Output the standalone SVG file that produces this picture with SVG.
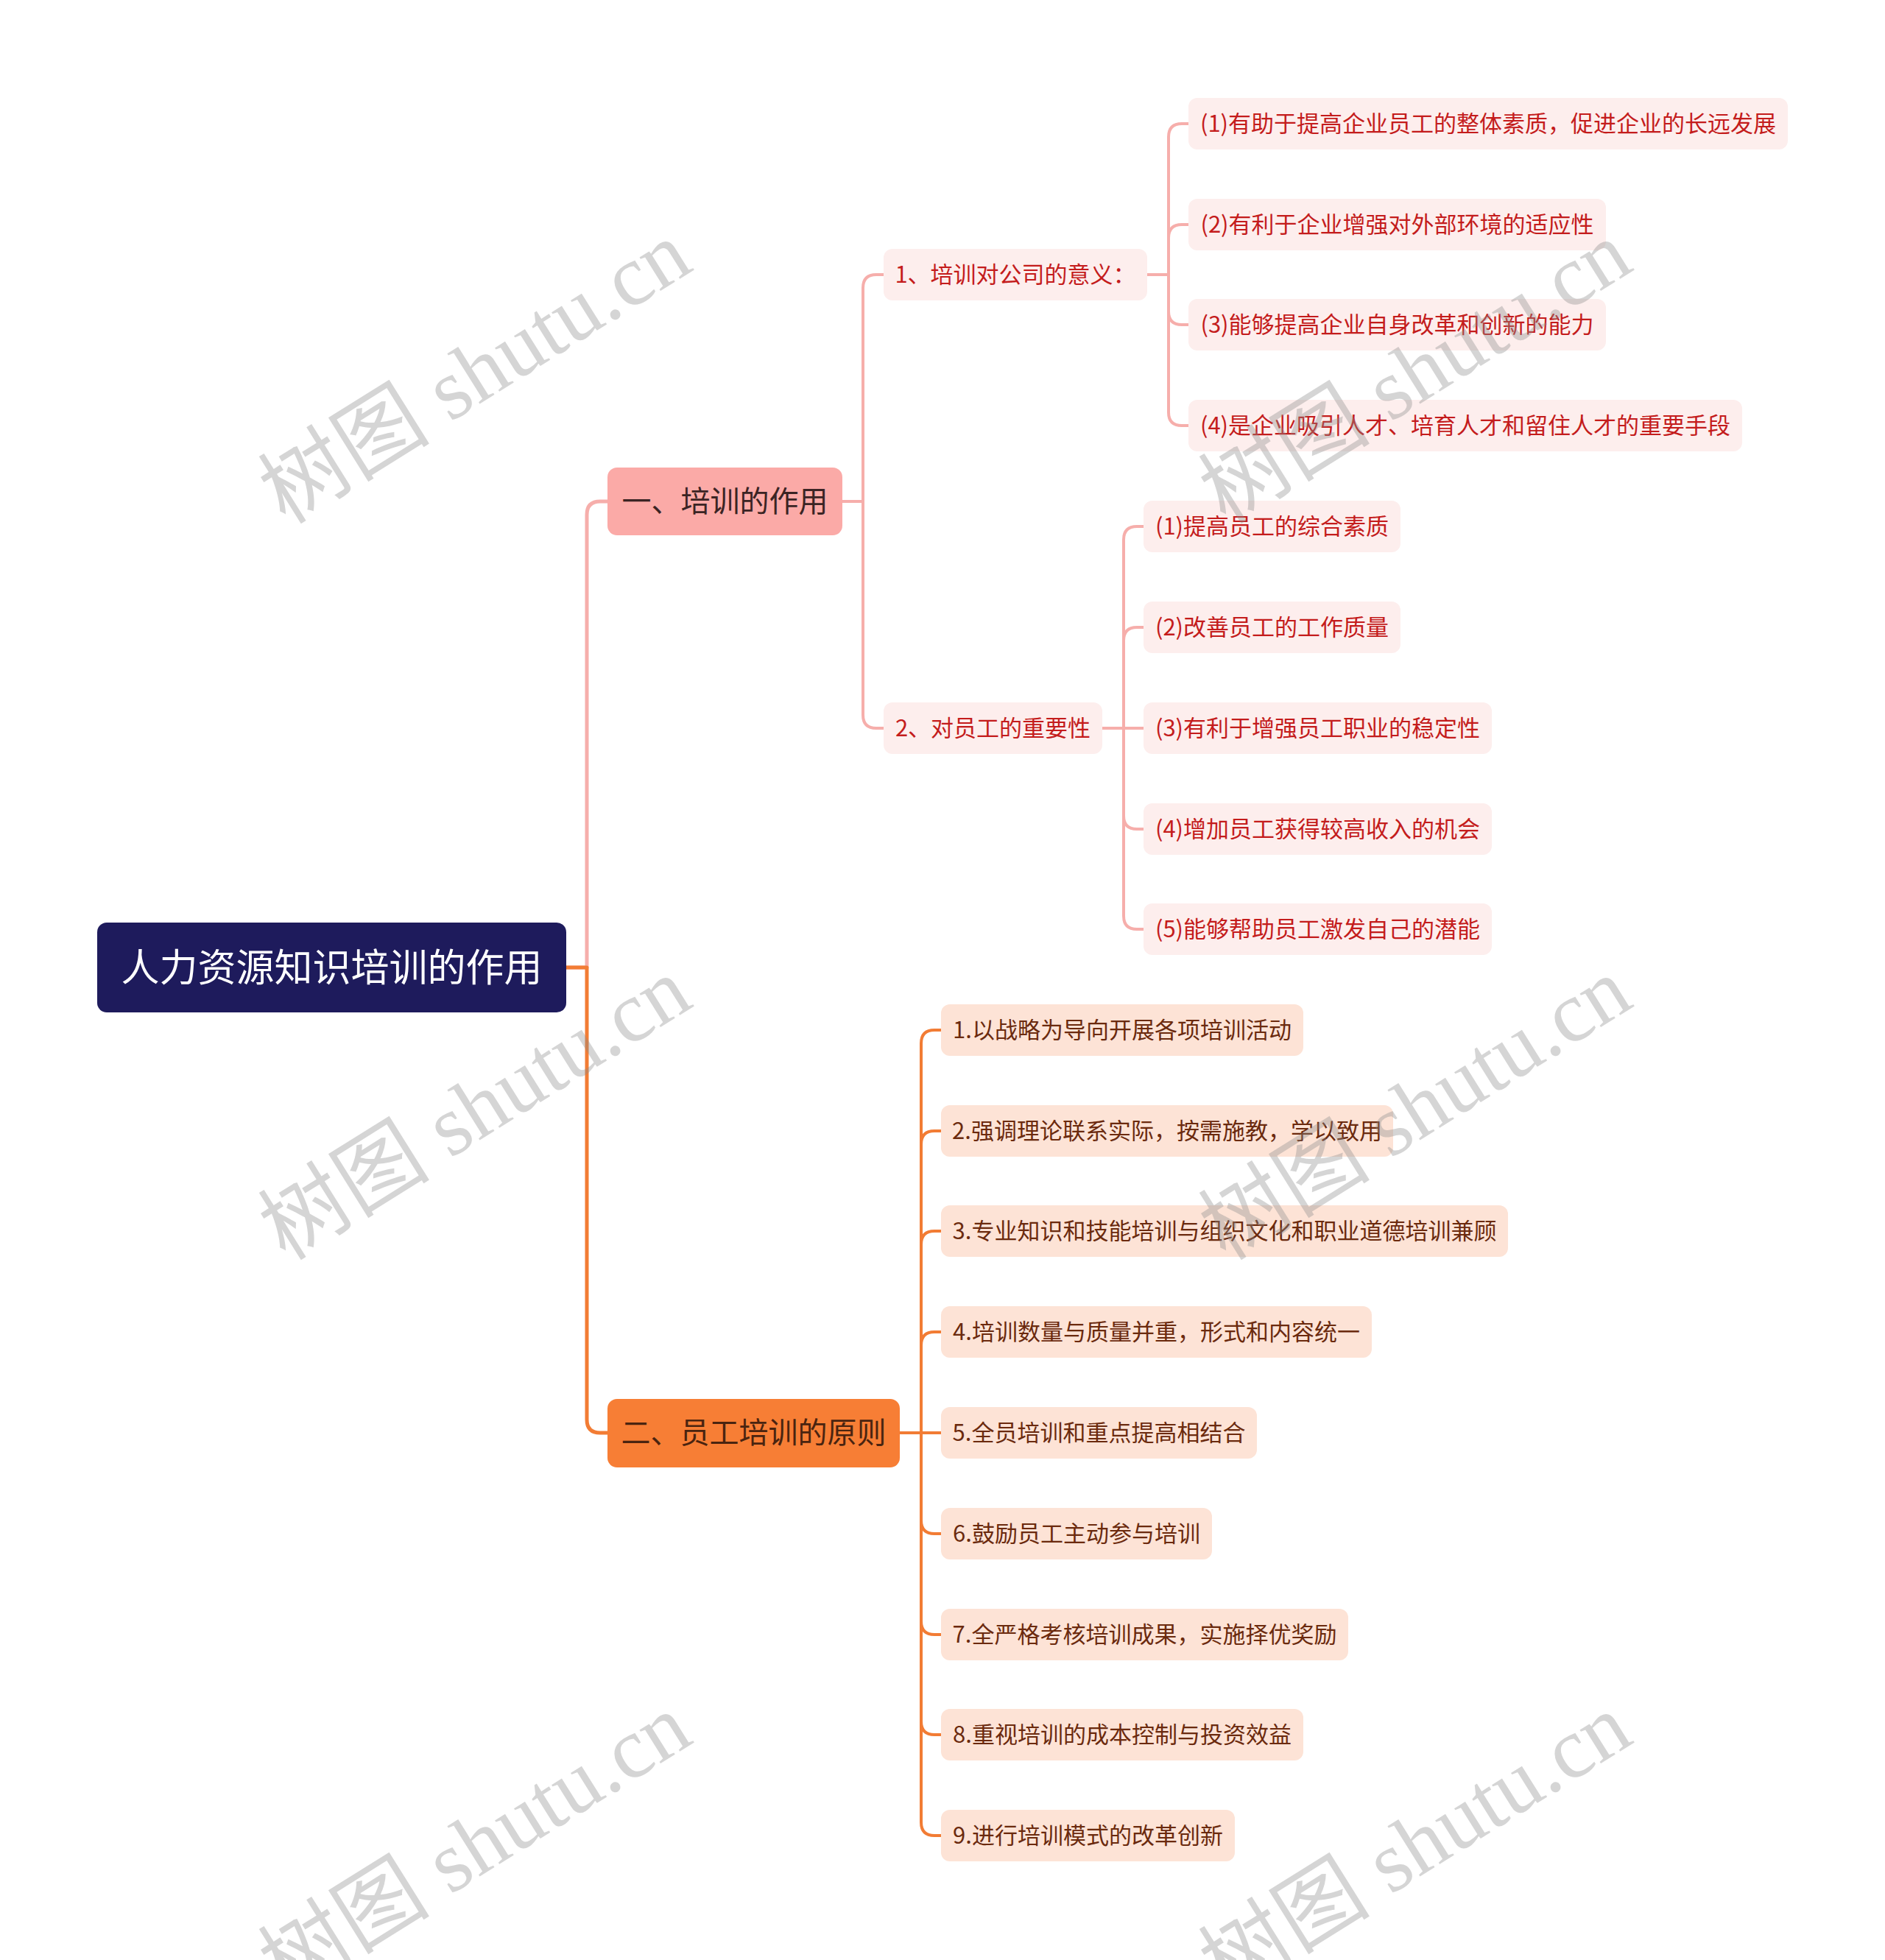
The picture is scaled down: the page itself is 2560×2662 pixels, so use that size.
<svg xmlns="http://www.w3.org/2000/svg" width="2560" height="2662" viewBox="0 0 2560 2662">
<style>
text{font-family:"Noto Sans CJK SC","Noto Sans",sans-serif;}
.c{fill:none;stroke-linecap:round;stroke-linejoin:round;}
.pk{stroke:#f6aeab;}
.or{stroke:#f27c34;}
.w5{stroke-width:5;}
.w4{stroke-width:4;}
.root rect{fill:#1e1b5c;}
.root text{fill:#ffffff;font-size:52px;text-anchor:middle;}
.b1 rect{fill:#fbaaa7;}
.b1 text{fill:#3b2424;font-size:40px;text-anchor:middle;}
.b2 rect{fill:#f77e35;}
.b2 text{fill:#4a2410;font-size:40px;text-anchor:middle;}
.lp rect{fill:#fdeeed;}
.lp text{fill:#c41c1c;font-size:31px;text-anchor:middle;}
.lo rect{fill:#fde3d6;}
.lo text{fill:#6b2a0e;font-size:31px;text-anchor:middle;}
.wm text{font-family:"Liberation Serif","Noto Sans CJK SC",serif;font-size:117px;fill:#8c8c8c;opacity:0.36;text-anchor:middle;}
</style>
<rect width="2560" height="2662" fill="#ffffff"/>
<g id="connectors">
  <path class="c pk w5" d="M769,1314 H797 V699 Q797,681 815,681 H825"/>
  <path class="c or w5" d="M769,1314 H797 V1928 Q797,1946 815,1946 H825"/>
  <path class="c pk w4" d="M1144,681 H1172 V391 Q1172,373 1190,373 H1200"/>
  <path class="c pk w4" d="M1144,681 H1172 V971 Q1172,989 1190,989 H1200"/>
  <path class="c pk w4" d="M1558,373 H1587 V186 Q1587,168 1605,168 H1614"/>
  <path class="c pk w4" d="M1558,373 H1587 V323 Q1587,305 1605,305 H1614"/>
  <path class="c pk w4" d="M1558,373 H1587 V423 Q1587,441 1605,441 H1614"/>
  <path class="c pk w4" d="M1558,373 H1587 V560 Q1587,578 1605,578 H1614"/>
  <path class="c pk w4" d="M1497,989 H1526 V733 Q1526,715 1544,715 H1553"/>
  <path class="c pk w4" d="M1497,989 H1526 V870 Q1526,852 1544,852 H1553"/>
  <path class="c pk w4" d="M1497,989 H1553"/>
  <path class="c pk w4" d="M1497,989 H1526 V1108 Q1526,1126 1544,1126 H1553"/>
  <path class="c pk w4" d="M1497,989 H1526 V1244 Q1526,1262 1544,1262 H1553"/>
  <path class="c or w4" d="M1222,1946 H1251 V1417 Q1251,1399 1269,1399 H1278"/>
  <path class="c or w4" d="M1222,1946 H1251 V1554 Q1251,1536 1269,1536 H1278"/>
  <path class="c or w4" d="M1222,1946 H1251 V1690 Q1251,1672 1269,1672 H1278"/>
  <path class="c or w4" d="M1222,1946 H1251 V1827 Q1251,1809 1269,1809 H1278"/>
  <path class="c or w4" d="M1222,1946 H1278"/>
  <path class="c or w4" d="M1222,1946 H1251 V2065 Q1251,2083 1269,2083 H1278"/>
  <path class="c or w4" d="M1222,1946 H1251 V2202 Q1251,2220 1269,2220 H1278"/>
  <path class="c or w4" d="M1222,1946 H1251 V2338 Q1251,2356 1269,2356 H1278"/>
  <path class="c or w4" d="M1222,1946 H1251 V2475 Q1251,2493 1269,2493 H1278"/>
</g>
<g id="root" class="root"><rect x="132" y="1253" width="637" height="122" rx="13"/><text x="450.5" y="1333">人力资源知识培训的作用</text></g>
<g id="b1" class="b1"><rect x="825" y="635" width="319" height="92" rx="13"/><text x="984.5" y="695">一、培训的作用</text></g>
<g id="b2" class="b2"><rect x="825" y="1900" width="397" height="93" rx="13"/><text x="1023.5" y="1960">二、员工培训的原则</text></g>
<g id="s1" class="lp"><rect x="1200" y="338" width="358" height="70" rx="12"/><text x="1379" y="384">1、培训对公司的意义：</text></g>
<g id="s2" class="lp"><rect x="1200" y="954" width="297" height="70" rx="12"/><text x="1348.5" y="1000">2、对员工的重要性</text></g>
<g id="s1-1" class="lp"><rect x="1614" y="133" width="814" height="70" rx="12"/><text x="2021" y="179">(1)有助于提高企业员工的整体素质，促进企业的长远发展</text></g>
<g id="s1-2" class="lp"><rect x="1614" y="270" width="567" height="70" rx="12"/><text x="1897.5" y="316">(2)有利于企业增强对外部环境的适应性</text></g>
<g id="s1-3" class="lp"><rect x="1614" y="406" width="567" height="70" rx="12"/><text x="1897.5" y="452">(3)能够提高企业自身改革和创新的能力</text></g>
<g id="s1-4" class="lp"><rect x="1614" y="543" width="752" height="70" rx="12"/><text x="1990" y="589">(4)是企业吸引人才、培育人才和留住人才的重要手段</text></g>
<g id="s2-1" class="lp"><rect x="1553" y="680" width="349" height="70" rx="12"/><text x="1727.5" y="726">(1)提高员工的综合素质</text></g>
<g id="s2-2" class="lp"><rect x="1553" y="817" width="349" height="70" rx="12"/><text x="1727.5" y="863">(2)改善员工的工作质量</text></g>
<g id="s2-3" class="lp"><rect x="1553" y="954" width="473" height="70" rx="12"/><text x="1789.5" y="1000">(3)有利于增强员工职业的稳定性</text></g>
<g id="s2-4" class="lp"><rect x="1553" y="1091" width="473" height="70" rx="12"/><text x="1789.5" y="1137">(4)增加员工获得较高收入的机会</text></g>
<g id="s2-5" class="lp"><rect x="1553" y="1227" width="473" height="70" rx="12"/><text x="1789.5" y="1273">(5)能够帮助员工激发自己的潜能</text></g>
<g id="p1" class="lo"><rect x="1278" y="1364" width="492" height="70" rx="12"/><text x="1524" y="1410">1.以战略为导向开展各项培训活动</text></g>
<g id="p2" class="lo"><rect x="1278" y="1501" width="614" height="70" rx="12"/><text x="1585" y="1547">2.强调理论联系实际，按需施教，学以致用</text></g>
<g id="p3" class="lo"><rect x="1278" y="1637" width="770" height="70" rx="12"/><text x="1663" y="1683">3.专业知识和技能培训与组织文化和职业道德培训兼顾</text></g>
<g id="p4" class="lo"><rect x="1278" y="1774" width="585" height="70" rx="12"/><text x="1570.5" y="1820">4.培训数量与质量并重，形式和内容统一</text></g>
<g id="p5" class="lo"><rect x="1278" y="1911" width="429" height="70" rx="12"/><text x="1492.5" y="1957">5.全员培训和重点提高相结合</text></g>
<g id="p6" class="lo"><rect x="1278" y="2048" width="368" height="70" rx="12"/><text x="1462" y="2094">6.鼓励员工主动参与培训</text></g>
<g id="p7" class="lo"><rect x="1278" y="2185" width="553" height="70" rx="12"/><text x="1554.5" y="2231">7.全严格考核培训成果，实施择优奖励</text></g>
<g id="p8" class="lo"><rect x="1278" y="2321" width="492" height="70" rx="12"/><text x="1524" y="2367">8.重视培训的成本控制与投资效益</text></g>
<g id="p9" class="lo"><rect x="1278" y="2458" width="399" height="70" rx="12"/><text x="1477.5" y="2504">9.进行培训模式的改革创新</text></g>
<g id="watermarks" class="wm">
  <g transform="translate(647,509) rotate(-32)"><text x="0" y="36">树图 shutu.cn</text></g>
  <g transform="translate(1924,509) rotate(-32)"><text x="0" y="36">树图 shutu.cn</text></g>
  <g transform="translate(647,1509) rotate(-32)"><text x="0" y="36">树图 shutu.cn</text></g>
  <g transform="translate(1924,1509) rotate(-32)"><text x="0" y="36">树图 shutu.cn</text></g>
  <g transform="translate(647,2509) rotate(-32)"><text x="0" y="36">树图 shutu.cn</text></g>
  <g transform="translate(1924,2509) rotate(-32)"><text x="0" y="36">树图 shutu.cn</text></g>
</g>
</svg>
